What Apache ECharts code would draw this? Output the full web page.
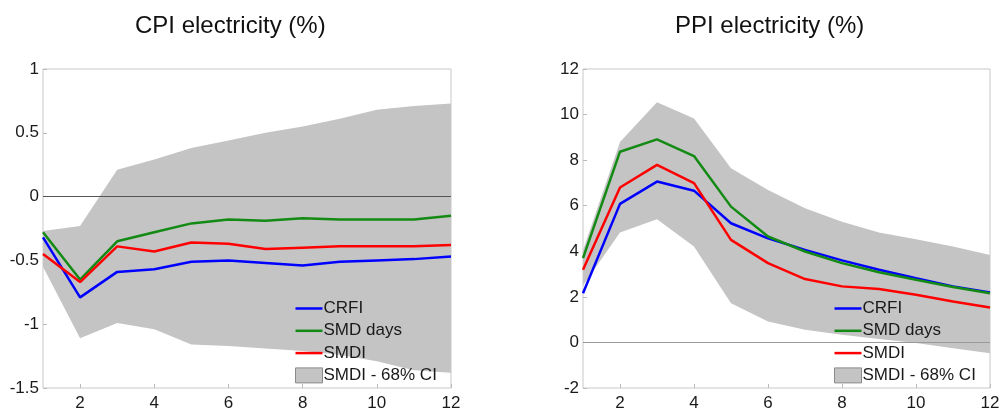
<!DOCTYPE html>
<html>
<head>
<meta charset="utf-8">
<script src="https://cdn.jsdelivr.net/npm/echarts@6/dist/echarts.min.js"></script>
<style>
  html, body { margin: 0; padding: 0; background: #fff; }
  #chart { width: 1003px; height: 409px; }
</style>
</head>
<body>
<div id="chart"></div>
<script>
// Horizons (months after the shock)
const horizons = ['1', '2', '3', '4', '5', '6', '7', '8', '9', '10', '11', '12'];

// CPI electricity responses (%)
const cpiCRFI    = [-0.32, -0.79, -0.59, -0.57, -0.51, -0.50, -0.52, -0.54, -0.51, -0.50, -0.49, -0.47];
const cpiSMDdays = [-0.28, -0.65, -0.35, -0.28, -0.21, -0.18, -0.19, -0.17, -0.18, -0.18, -0.18, -0.15];
const cpiSMDI    = [-0.45, -0.67, -0.39, -0.43, -0.36, -0.37, -0.41, -0.40, -0.39, -0.39, -0.39, -0.38];
const cpiCILow   = [-0.55, -1.11, -0.99, -1.04, -1.16, -1.17, -1.19, -1.21, -1.24, -1.29, -1.36, -1.38];
const cpiCIHigh  = [-0.27, -0.23,  0.21,  0.29,  0.38,  0.44,  0.50,  0.55,  0.61,  0.68,  0.71,  0.73];

// PPI electricity responses (%)
const ppiCRFI    = [2.16, 6.08, 7.06, 6.66, 5.23, 4.57, 4.06, 3.60, 3.19, 2.82, 2.46, 2.19];
const ppiSMDdays = [3.70, 8.37, 8.91, 8.18, 5.96, 4.65, 3.99, 3.48, 3.08, 2.75, 2.43, 2.16];
const ppiSMDI    = [3.19, 6.80, 7.79, 6.99, 4.50, 3.48, 2.78, 2.46, 2.34, 2.09, 1.80, 1.53];
const ppiCILow   = [2.50, 4.82, 5.41, 4.21, 1.72, 0.92, 0.56, 0.34, 0.15, -0.03, -0.25, -0.47];
const ppiCIHigh  = [4.05, 8.80, 10.54, 9.83, 7.64, 6.69, 5.89, 5.30, 4.82, 4.53, 4.21, 3.84];

const names = ['CRFI', 'SMD days', 'SMDI', 'SMDI - 68% CI'];
const colors = ['#0000ff', '#138a13', '#ff0000'];
const bandColor = '#c4c4c4';
const font = 'Liberation Sans, Arial, sans-serif';
const lineIcon = 'path://M0,0 L27,0 L27,2.5 L0,2.5 Z';

const chart = echarts.init(document.getElementById('chart'), null, { renderer: 'canvas' });

function xAxisFor(gridIndex) {
  return {
    type: 'category', gridIndex, data: horizons, boundaryGap: false,
    axisLine: { show: false, onZero: false },
    axisTick: { show: true, inside: true, length: 4, interval: (i) => i % 2 === 1, lineStyle: { color: '#bbb' } },
    axisLabel: { interval: (i) => i % 2 === 1, margin: 7, fontSize: 17, color: '#1a1a1a', fontFamily: font },
    splitLine: { show: false }
  };
}
function yAxisFor(gridIndex, min, max, interval) {
  return {
    type: 'value', gridIndex, min, max, interval,
    axisLine: { show: false, onZero: false },
    axisTick: { show: true, inside: true, length: 4, lineStyle: { color: '#bbb' } },
    axisLabel: { margin: 4, fontSize: 17, color: '#1a1a1a', fontFamily: font },
    splitLine: { show: false }
  };
}

function panelSeries(idx, crfi, days, smdi, lo, hi, zeroColor) {
  const stackId = 'ci' + idx;
  const width = hi.map((v, i) => +(v - lo[i]).toFixed(4));
  const lineBase = (name, data, color, z) => ({
    name, type: 'line', xAxisIndex: idx, yAxisIndex: idx, data,
    symbol: 'none', z, lineStyle: { color, width: 2.5 }, itemStyle: { color },
    animation: false
  });
  return [
    {
      name: 'ciBase' + idx, type: 'line', xAxisIndex: idx, yAxisIndex: idx,
      data: lo, stack: stackId, stackStrategy: 'all', symbol: 'none',
      lineStyle: { opacity: 0 }, silent: true, z: 1, animation: false
    },
    {
      name: names[3], type: 'line', xAxisIndex: idx, yAxisIndex: idx,
      data: width, stack: stackId, stackStrategy: 'all', symbol: 'none',
      lineStyle: { opacity: 0, width: 0 }, itemStyle: { color: bandColor },
      areaStyle: { color: bandColor, opacity: 1 }, z: 1, animation: false,
      markLine: {
        silent: true, symbol: 'none', label: { show: false },
        lineStyle: { color: zeroColor, width: 1, type: 'solid' },
        data: [{ yAxis: 0 }], z: 2, animation: false
      }
    },
    lineBase(names[0], crfi, colors[0], 3),
    lineBase(names[1], days, colors[1], 4),
    lineBase(names[2], smdi, colors[2], 5)
  ];
}

function legendFor(left) {
  return {
    orient: 'vertical', left, top: 300, itemWidth: 27, itemHeight: 15, itemGap: 5.3,
    padding: 0, selectedMode: false, symbolKeepAspect: true,
    textStyle: { fontSize: 17, color: '#1a1a1a', fontFamily: font, padding: [0, 0, 0, -4] },
    data: [
      { name: names[0], icon: lineIcon, itemStyle: { color: colors[0] } },
      { name: names[1], icon: lineIcon, itemStyle: { color: colors[1] } },
      { name: names[2], icon: lineIcon, itemStyle: { color: colors[2] } },
      { name: names[3], icon: 'rect', itemStyle: { color: bandColor, borderColor: '#8a8a8a', borderWidth: 1 } }
    ]
  };
}

const titleStyle = { fontSize: 24, fontWeight: 'normal', color: '#111', fontFamily: font };

chart.setOption({
  backgroundColor: '#fff',
  animation: false,
  title: [
    { text: 'CPI electricity (%)', left: 130, top: 9, textStyle: titleStyle },
    { text: 'PPI electricity (%)', left: 670, top: 9, textStyle: titleStyle }
  ],
  legend: [legendFor(295), legendFor(834)],
  grid: [
    { left: 43, top: 69, width: 408, height: 319, outerBoundsMode: 'none', containLabel: false,
      show: true, borderColor: '#c8c8c8', borderWidth: 1, backgroundColor: 'transparent' },
    { left: 583, top: 69, width: 407, height: 319, outerBoundsMode: 'none', containLabel: false,
      show: true, borderColor: '#c8c8c8', borderWidth: 1, backgroundColor: 'transparent' }
  ],
  xAxis: [xAxisFor(0), xAxisFor(1)],
  yAxis: [yAxisFor(0, -1.5, 1, 0.5), yAxisFor(1, -2, 12, 2)],
  series: [
    ...panelSeries(0, cpiCRFI, cpiSMDdays, cpiSMDI, cpiCILow, cpiCIHigh, '#555'),
    ...panelSeries(1, ppiCRFI, ppiSMDdays, ppiSMDI, ppiCILow, ppiCIHigh, '#9a9a9a')
  ]
});
</script>
</body>
</html>
